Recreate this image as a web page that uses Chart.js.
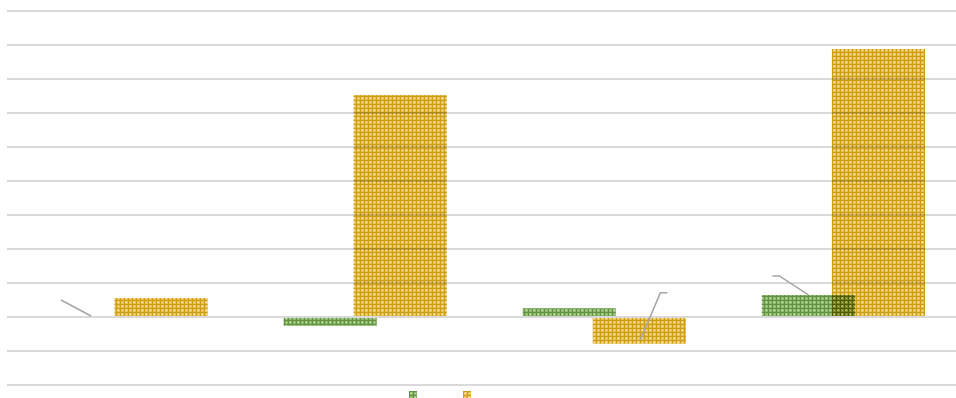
<!DOCTYPE html>
<html>
<head>
<meta charset="utf-8">
<script src="https://cdn.jsdelivr.net/npm/chart.js@4.4.1/dist/chart.umd.min.js"></script>
<style>
  html, body { margin: 0; padding: 0; background: #fff; overflow: hidden; }
  #wrap { position: absolute; left: 0; top: 0; width: 963px; height: 398px; }
  #legend { position: absolute; top: 391px; left: 0; width: 956px; height: 8px; }
  #legend span { position: absolute; width: 8px; height: 8px; }
</style>
</head>
<body>
<div id="wrap"><canvas id="chart"></canvas></div>
<div id="legend"></div>
<script>
// --- DATA ---
const categories = ['1', '2', '3', '4'];
const seriesNames = ['Series 1', 'Series 2'];
const greenValues = [0, -0.26, 0.26, 0.65];
const yellowValues = [0.56, 6.53, -0.79, 7.88];
const yTicks = { min: -2, max: 9, step: 1 };

// leader lines from data labels: [datasetIndex, pointIndex, offsets relative to bar end]
const leaders = [
    [0, 0, [[-30, -17], [0, -1]]],
    [1, 2, [[1, -4], [21, -51], [28, -51]]],
    [0, 3, [[0, 0], [-29, -19], [-36, -19]]]
];

// --- PATTERNS ---
function makeTile(base, dark, light) {
    const c = document.createElement('canvas');
    c.width = 8; c.height = 8;
    const g = c.getContext('2d');
    g.fillStyle = base;
    g.fillRect(0, 0, 8, 8);
    g.fillStyle = dark;
    g.fillRect(0, 0, 8, 1);
    g.fillRect(0, 0, 1, 8);
    g.fillRect(0, 4, 8, 1);
    g.fillRect(4, 0, 1, 8);
    g.fillStyle = light;
    [[2, 2], [6, 6], [2, 6], [6, 2], [1, 2], [2, 1], [5, 6], [6, 5]].forEach(p => g.fillRect(p[0], p[1], 1, 1));
    return c;
}

const greenTile = makeTile('#8cb76d', '#62933f', '#bad8a5');
const yellowTile = makeTile('#e8c050', '#cf9e18', '#f6e3a8');

const ctx = document.getElementById('chart').getContext('2d');
const greenPattern = ctx.createPattern(greenTile, 'repeat');
const yellowPattern = ctx.createPattern(yellowTile, 'repeat');

// --- PLUGINS ---
// bars blend with what is under them (grid lines, the other series)
const multiplyBars = {
    id: 'multiplyBars',
    beforeDatasetsDraw(chart) {
        chart.ctx.save();
        chart.ctx.globalCompositeOperation = 'multiply';
    },
    afterDatasetsDraw(chart) {
        chart.ctx.restore();
    }
};

const leaderLines = {
    id: 'leaderLines',
    afterDraw(chart) {
        const c = chart.ctx;
        c.save();
        c.strokeStyle = '#a6a6a6';
        c.lineWidth = 1.5;
        leaders.forEach(([ds, idx, pts]) => {
            const bar = chart.getDatasetMeta(ds).data[idx];
            c.beginPath();
            pts.forEach((p, i) => {
                const x = bar.x + p[0], y = bar.y + p[1];
                if (i === 0) c.moveTo(x, y); else c.lineTo(x, y);
            });
            c.stroke();
        });
        c.restore();
    }
};

// --- CHART ---
const chart = new Chart(ctx, {
    type: 'bar',
    data: {
        labels: categories,
        datasets: [
            { label: seriesNames[0], data: greenValues, backgroundColor: greenPattern, borderWidth: 0 },
            { label: seriesNames[1], data: yellowValues, backgroundColor: yellowPattern, borderWidth: 0 }
        ]
    },
    options: {
        responsive: true,
        maintainAspectRatio: false,
        animation: false,
        layout: { padding: { left: 6.5, right: 0, top: 11, bottom: 13 } },
        datasets: {
            bar: { categoryPercentage: 0.586, barPercentage: 1.33 }
        },
        plugins: {
            legend: { display: false },
            tooltip: { enabled: false }
        },
        scales: {
            x: { display: false },
            y: {
                min: yTicks.min,
                max: yTicks.max,
                ticks: { stepSize: yTicks.step, display: false },
                grid: { color: '#d9d9d9', lineWidth: 2, drawTicks: false },
                border: { display: false }
            }
        }
    },
    plugins: [multiplyBars, leaderLines]
});

// --- HTML LEGEND ---
const legendX = [409, 463];
const tiles = [greenTile, yellowTile];
const legendEl = document.getElementById('legend');
chart.data.datasets.forEach((ds, i) => {
    const s = document.createElement('span');
    s.title = ds.label;
    s.style.left = legendX[i] + 'px';
    s.style.backgroundImage = 'url(' + tiles[i].toDataURL() + ')';
    legendEl.appendChild(s);
});
</script>
</body>
</html>
